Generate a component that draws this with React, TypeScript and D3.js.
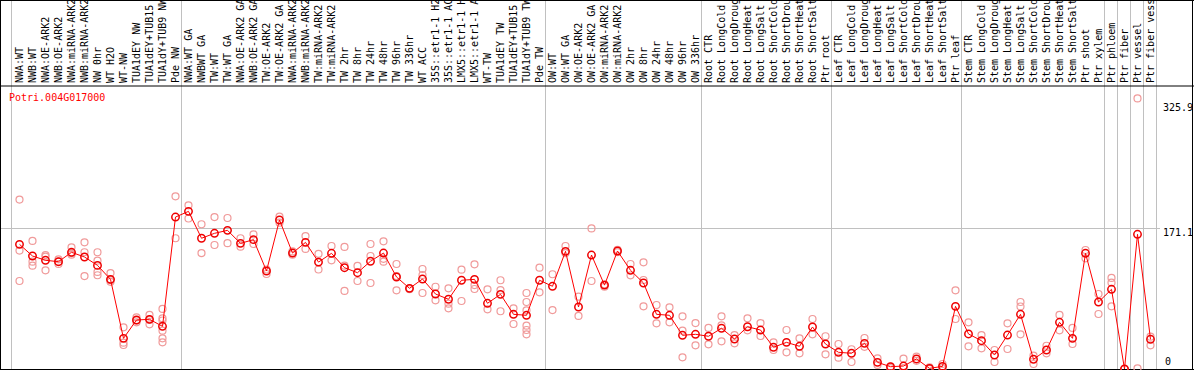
import React from "react";
import * as d3 from "d3";

const title = "Potri.004G017000";

const labels: string[] = [
  "NWA:WT", "NWB:WT", "NWA:OE-ARK2", "NWB:OE-ARK2", "NWA:miRNA-ARK2", "NWB:miRNA-ARK2",
  "NW 0hr", "WT H2O", "WT-NW", "TUA1dEY NW", "TUA1dEY+TUB15", "TUA1dY+TUB9 NW", "Pde NW",
  "NWA:WT GA", "NWBWT GA", "TW:WT", "TW:WT GA", "NWA:OE-ARK2 GA", "NWB:OE-ARK2 GA",
  "TW:OE-ARK2", "TW:OE-ARK2 GA", "NWA:miRNA-ARK2 GA", "NWB:miRNA-ARK2 GA", "TW:miRNA-ARK2",
  "TW:miRNA-ARK2 GA", "TW 2hr", "TW 8hr", "TW 24hr", "TW 48hr", "TW 96hr", "TW 336hr",
  "WT ACC", "35S::etr1-1 H2O", "35S::etr1-1 ACC", "LMX5::etr1-1 H2O", "LMX5::etr1-1 ACC",
  "WT-TW", "TUA1dEY TW", "TUA1dEY+TUB15 TW", "TUA1dY+TUB9 TW", "Pde TW",
  "OW:WT", "OW:WT GA", "OW:OE-ARK2", "OW:OE-ARK2 GA", "OW:miRNA-ARK2", "OW:miRNA-ARK2 GA",
  "OW 2hr", "OW 8hr", "OW 24hr", "OW 48hr", "OW 96hr", "OW 336hr",
  "Root CTR", "Root LongCold", "Root LongDrought", "Root LongHeat", "Root LongSalt",
  "Root ShortCold", "Root ShortDrought", "Root ShortHeat", "Root ShortSalt", "Ptr root",
  "Leaf CTR", "Leaf LongCold", "Leaf LongDrought", "Leaf LongHeat", "Leaf LongSalt",
  "Leaf ShortCold", "Leaf ShortDrought", "Leaf ShortHeat", "Leaf ShortSalt", "Ptr leaf",
  "Stem CTR", "Stem LongCold", "Stem LongDrought", "Stem LongHeat", "Stem LongSalt",
  "Stem ShortCold", "Stem ShortDrought", "Stem ShortHeat", "Stem ShortSalt", "Ptr shoot",
  "Ptr xylem", "Ptr phloem", "Ptr fiber", "Ptr vessel", "Ptr fiber vessel",
];

const means: number[] = [
  151.6, 137.4, 132.2, 130.5, 141.9, 136.2, 126, 109, 37.3, 59.6, 60.4, 51.9, 184.8,
  191.7, 159, 165, 168.6, 152.8, 157.3, 119.2, 181.2, 141, 154, 130, 140.7, 123.2, 117.1,
  131, 141, 111.9, 98.1, 109.4, 91.2, 84.8, 107.9, 109, 79.9, 90.8, 66.5, 65.3, 107.9,
  100.6, 143.1, 75.4, 138.6, 102, 143.5, 120, 104.6, 66.5, 65.3, 41, 42.2,
  39.8, 49.5, 36.5, 51.4, 47.4, 26.4, 32.4, 27.6, 51.1, 30.4,
  20.3, 19.1, 31.2, 8.1, 2.8, 3.6, 12.2, 0.8, 3.2, 76.2,
  42.6, 34.4, 17, 41.3, 66.5, 11.8, 23.1, 56.8, 37.3, 140.7,
  81.5, 96.9, 0, 163.8, 36.1,
];

const replicates: number[][] = [
  [206, 144, 107], [155.7, 130.5, 125.6], [138.6, 136.6, 120], [133.4, 127.7, 130.5],
  [148, 139, 141], [154, 142, 113], [142, 131.7, 118, 114], [116.7, 106, 108],
  [50.7, 32, 29.2], [62.8, 56.8, 59], [65.7, 54.3, 60], [73, 61.6, 59, 46.6, 37.3, 32.4],
  [210, 159],
  [199, 183], [176, 141], [184.8, 150.8], [183.6, 153], [159, 148.7], [163.8, 152],
  [115.5, 121], [185.2, 178], [143, 139], [161.7, 146], [140, 121], [149.6, 132.2],
  [148.4, 125.6, 94.9], [125.3, 107], [152, 137.4, 104.6], [155.3, 134, 130.5],
  [127.7, 95.7, 113], [98.1, 97], [121.6, 114.3, 92.4], [100, 83.5], [98.1, 79.4, 73.8],
  [120.8, 82.7], [127.3, 102, 97.3], [96.9, 72.6], [107.9, 96, 70.2], [73.8, 54.7],
  [92.4, 81.5, 71.4, 52.7, 47.4, 42.2], [123.2, 93.2],
  [115.2, 71.7], [149.6, 141], [64.5, 88], [171, 107], [100, 103], [145, 142],
  [127.7, 113.9], [129.7, 108.2, 76.2], [77.8, 55.6], [75, 56.8], [64.1, 46.6, 14.2],
  [55.9, 28.8],
  [49.9, 30], [64.1, 53.1, 33.7], [41.3, 31.2], [61.6, 47], [55.9, 40.1], [32.4, 23.1],
  [47.4, 20.3], [37.3, 19.1], [60.8, 42.2], [39.8, 17.9],
  [30.4, 13.8], [24, 8.5], [37.7, 27], [13, 4.9], [1, 3], [12.5, 1], [15, 10], [2, 0],
  [6.1, 1], [95.7, 60.8],
  [56.8, 27.6], [41.3, 25.2], [23.1, 8.5], [55.6, 24.3], [81.5, 76, 42.2], [16.2, 6.1],
  [28.3, 19.1], [65.7, 47], [49.9, 30.4], [144.7, 134.6],
  [91.2, 66.9], [110.7, 105, 76.2], [0, 0], [329, 0.8], [39.3, 28.8],
];

// indices of last column in each group (separator drawn after these)
const groupEnds: number[] = [12, 40, 52, 62, 72, 83, 84, 85, 86, 87];
const axisTicks: number[] = [325.9, 171.1, 0];
const gridTicks: number[] = [171.1];

const W = 1194;
const H = 370;
const FONT = "'DejaVu Sans Mono', 'Liberation Mono', monospace";

export default function App() {
  const x = d3.scaleLinear().domain([0, labels.length - 1]).range([19.5, 19.5 + 13 * (labels.length - 1)]);
  const y = d3.scaleLinear().domain([0, 171.1]).range([369, 228.3]);
  const line = d3
    .line<number>()
    .x((_, i) => x(i))
    .y((d) => y(d));

  const seps = [x(0) - 9, ...groupEnds.map((i) => x(i) + 5)];
  const tickLabelY = (v: number, i: number) => {
    if (v === 0) return y(v) - 4;
    return Math.round(y(v)) + (i === 0 ? 9.5 : 8);
  };

  return (
    <div style={{ position: "absolute", left: 0, top: 0 }}>
      <svg width={W} height={H} style={{ display: "block", background: "#fff" }}>
        {/* separators */}
        {seps.map((sx, i) => (
          <line key={"s" + i} x1={Math.round(sx) + 0.5} x2={Math.round(sx) + 0.5} y1={0} y2={369} stroke="#c0c0c0" strokeWidth={1} />
        ))}
        {/* gridline */}
        {gridTicks.map((t) => (
          <line key={"g" + t} x1={0} x2={1160} y1={Math.round(y(t)) + 0.5} y2={Math.round(y(t)) + 0.5} stroke="#c0c0c0" strokeWidth={1} />
        ))}
        {/* frame */}
        <line x1={0} x2={W} y1={0.5} y2={0.5} stroke="#000" />
        <line x1={0} x2={W} y1={86} y2={86} stroke="#000" />
        <line x1={0} x2={W} y1={369.5} y2={369.5} stroke="#000" />
        <line x1={0.5} x2={0.5} y1={0} y2={370} stroke="#000" />
        <line x1={1192.5} x2={1192.5} y1={0} y2={370} stroke="#000" />

        {/* header labels */}
        <g fontFamily={FONT} fontSize={10} fill="#000">
          {labels.map((l, i) => (
            <text key={"l" + i} transform={`translate(${x(i) + 3.5},83) rotate(-90)`} textAnchor="start">
              {l}
            </text>
          ))}
        </g>

        {/* axis labels */}
        <g fontFamily={FONT} fontSize={10} fill="#000">
          {axisTicks.map((t, i) => (
            <text key={"t" + t} x={t === 0 ? 1165 : 1163} y={tickLabelY(t, i)}>
              {String(t)}
            </text>
          ))}
        </g>

        {/* title */}
        <text x={9} y={100.5} fontFamily={FONT} fontSize={10} fill="#ff0000">
          {title}
        </text>

        {/* replicates */}
        <g fill="none" stroke="#f09a9a" strokeWidth={1.2}>
          {replicates.map((reps, i) =>
            reps.map((v, j) => <circle key={`r${i}-${j}`} cx={x(i)} cy={y(v)} r={3.5} />)
          )}
        </g>

        {/* mean line */}
        <path d={line(means) || ""} fill="none" stroke="#ff0000" strokeWidth={1} />
        <g fill="none" stroke="#ee0000" strokeWidth={1.5}>
          {means.map((v, i) => (
            <circle key={"m" + i} cx={x(i)} cy={y(v)} r={3.7} />
          ))}
        </g>
      </svg>
    </div>
  );
}
